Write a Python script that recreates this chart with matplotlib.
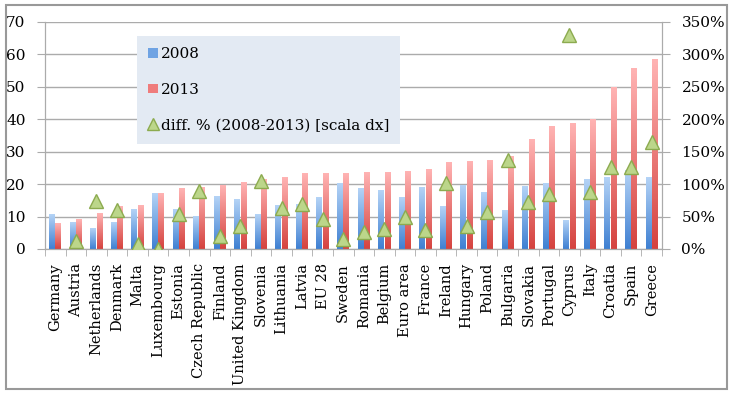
import numpy as np
import matplotlib
matplotlib.use("Agg")
import matplotlib.pyplot as plt
from matplotlib.patches import Rectangle, Patch
from matplotlib.lines import Line2D
from matplotlib.colors import LinearSegmentedColormap
from matplotlib.ticker import FuncFormatter, MultipleLocator

# data
countries = ["Germany", "Austria", "Netherlands", "Denmark", "Malta", "Luxembourg",
             "Estonia", "Czech Republic", "Finland", "United Kingdom", "Slovenia",
             "Lithuania", "Latvia", "EU 28", "Sweden", "Romania", "Belgium",
             "Euro area", "France", "Ireland", "Hungary", "Poland", "Bulgaria",
             "Slovakia", "Portugal", "Cyprus", "Italy", "Croatia", "Spain", "Greece"]
v2008 = [10.5, 8.1, 6.3, 8.1, 12.3, 17.2, 12.2, 9.9, 16.3, 15.1, 10.5,
         13.3, 13.6, 15.9, 20.3, 18.6, 18.1, 15.8, 18.8, 13.2, 19.7, 17.4,
         12.0, 19.1, 20.3, 8.9, 21.4, 22.0, 24.3, 22.0]
v2013 = [7.7, 9.2, 10.9, 13.1, 13.3, 17.2, 18.6, 18.9, 19.7, 20.6, 21.5,
         22.0, 23.2, 23.4, 23.4, 23.6, 23.6, 23.9, 24.6, 26.7, 27.1, 27.2,
         28.4, 33.6, 37.8, 38.8, 39.9, 49.7, 55.7, 58.5]
diff_pct = [-27, 13, 74, 60, 7, 0, 54, 90, 20, 35, 105,
            63, 70, 46, 15, 26, 31, 50, 30, 101, 35, 57,
            137, 73, 85, 330, 87, 127, 126, 164]

plt.rcParams['font.family'] = ['DejaVu Serif']
plt.rcParams['font.size'] = 11

fig = plt.figure(figsize=(7.33, 3.93), dpi=100)
W, H = 733, 393
ax = fig.add_axes([45 / W, 1 - 249 / H, (662 - 45) / W, (249 - 21.7) / H])
ax2 = ax.twinx()

grid_col = "#ababab"
x = np.arange(len(countries))
bw = 0.29

blue_cm = LinearSegmentedColormap.from_list("b", ["#3f80d2", "#b4d3f6"])
red_cm = LinearSegmentedColormap.from_list("r", ["#d5433f", "#ffb3b3"])
grad = np.linspace(0, 1, 64).reshape(-1, 1)

bars1 = ax.bar(x - bw / 2 - 0.01, v2008, bw, color="#7aaae6", zorder=2)
bars2 = ax.bar(x + bw / 2 + 0.01, v2013, bw, color="#f08080", zorder=2)
for bars, cm in [(bars1, blue_cm), (bars2, red_cm)]:
    for b in bars:
        x0, w, h = b.get_x(), b.get_width(), b.get_height()
        ax.imshow(grad, extent=[x0, x0 + w, 0, h], origin="lower", aspect="auto",
                  cmap=cm, zorder=2.1, interpolation="bilinear")

ax.set_xlim(-0.5, len(countries) - 0.5)
ax.set_ylim(0, 70)
ax.yaxis.set_major_locator(MultipleLocator(10))
ax.grid(axis="y", color=grid_col, linewidth=1, zorder=0)
ax.set_axisbelow(True)
ax.set_xticks(x)
ax.set_xticklabels(countries, rotation=90, fontsize=10.5)
ax.set_xticks(np.arange(-0.5, len(countries)), minor=True)
ax.tick_params(axis="x", which="major", length=0, pad=10)
ax.tick_params(axis="x", which="minor", length=5, color=grid_col)
ax.tick_params(axis="y", length=6, color=grid_col, pad=8)

ax2.plot(x, np.array(diff_pct) / 100, linestyle="none", marker="^", markersize=10,
         markerfacecolor="#bcd68a", markeredgecolor="#8cab4f", markeredgewidth=1, zorder=5)
ax2.set_ylim(0, 3.5)
ax2.yaxis.set_major_locator(MultipleLocator(0.5))
ax2.yaxis.set_major_formatter(FuncFormatter(lambda v, p: f"{v * 100:.0f}%"))
ax2.tick_params(axis="y", length=6, color=grid_col, pad=8)

for a in (ax, ax2):
    a.spines["top"].set_visible(False)
    for s in ("left", "right", "bottom"):
        a.spines[s].set_color(grid_col)

handles = [Patch(facecolor="#6fa3e3", edgecolor="none"),
           Patch(facecolor="#ef7c7c", edgecolor="none"),
           Line2D([], [], linestyle="none", marker="^", markersize=8,
                  markerfacecolor="#bcd68a", markeredgecolor="#8cab4f")]
leg = ax2.legend(handles, ["2008", "2013", "diff. % (2008-2013) [scala dx]"],
                 loc="upper left", bbox_to_anchor=(0.149, 0.937), borderaxespad=0,
                 frameon=True, fancybox=False, facecolor="#e3eaf3", edgecolor="none",
                 framealpha=1, labelspacing=1.4, handlelength=0.6, handleheight=0.6,
                 handletextpad=0.2, borderpad=0.75, fontsize=11)
leg.set_zorder(10)

fig.patches.append(Rectangle((6 / W, 1 - 389 / H), (727 - 6) / W, (389 - 5) / H,
                             transform=fig.transFigure, fill=False,
                             edgecolor="#999999", linewidth=1.5))

fig.savefig("out.png", dpi=100)
